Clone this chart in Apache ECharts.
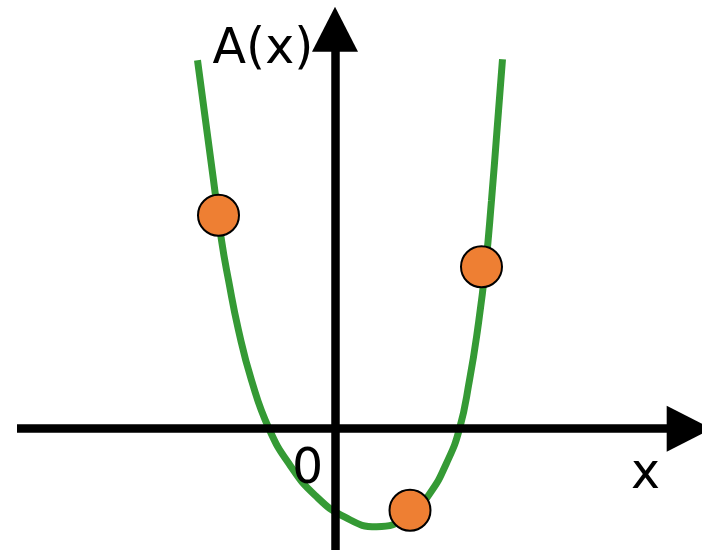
<!DOCTYPE html>
<html>
<head>
<meta charset="utf-8">
<title>A(x)</title>
<script src="https://cdn.jsdelivr.net/npm/echarts@6.0.0/dist/echarts.min.js"></script>
<style>
  html, body { margin: 0; padding: 0; background: #fff; }
  .chart { width: 702px; height: 550px; }
</style>
</head>
<body>
<div class="chart"></div>
<script>
// 曲线上的点
var curveX = [-2.75, -2.59, -2.43, -2.27, -2.13, -1.93, -1.67, -1.32, -0.90, -0.40, 0.20, 0.83, 1.50, 1.90, 2.23, 2.49, 2.69, 2.85, 3.01, 3.13, 3.24, 3.35];
var curveY = [7.37, 6.17, 4.97, 3.77, 2.97, 1.97, 0.97, 0, -0.73, -1.33, -1.77, -1.96, -1.73, -1.29, -0.69, 0, 0.97, 1.97, 3.24, 4.57, 5.97, 7.39];

// 橙色的点
var dotX = [-2.33, 1.50, 2.93];
var dotY = [4.27, -1.63, 3.24];

// 文字
var yName = 'A(x)';
var xName = 'x';
var originLabel = '0';

function pairs(xs, ys) {
  var out = [];
  for (var i = 0; i < xs.length; i++) out.push([xs[i], ys[i]]);
  return out;
}

var chart = echarts.init(document.querySelector('.chart'));

var axisLine = {
  show: true,
  onZero: true,
  symbol: ['none', 'triangle'],
  symbolSize: [46, 45],
  lineStyle: { color: '#000', width: 8.5, cap: 'butt' }
};

var font = '49px "DejaVu Sans"';

var option = {
  animation: false,
  grid: { left: 17, right: 12.8, top: 29.2, bottom: 0 },
  xAxis: {
    type: 'value',
    min: -6.36,
    max: 7.084,
    z: 10,
    axisLine: axisLine,
    axisTick: { show: false },
    axisLabel: { show: false },
    splitLine: { show: false }
  },
  yAxis: {
    type: 'value',
    min: -2.426,
    max: 7.99,
    z: 10,
    axisLine: axisLine,
    axisTick: { show: false },
    axisLabel: { show: false },
    splitLine: { show: false }
  },
  series: [
    {
      name: 'curve',
      type: 'line',
      data: pairs(curveX, curveY),
      smooth: 0.5,
      showSymbol: false,
      lineStyle: { color: '#359a35', width: 7, cap: 'butt' },
      z: 2
    },
    {
      name: 'points',
      type: 'scatter',
      data: pairs(dotX, dotY),
      symbolSize: 41,
      itemStyle: { color: '#ee7f33', borderColor: '#000', borderWidth: 2, opacity: 1 },
      z: 20
    }
  ],
  graphic: [
    { type: 'text', z: 100, style: { text: yName, x: 212.6, y: 50.5, font: font, fill: '#000', textAlign: 'left', textVerticalAlign: 'middle' } },
    { type: 'text', z: 100, style: { text: originLabel, x: 307.5, y: 470.5, font: font, fill: '#000', textAlign: 'center', textVerticalAlign: 'middle' } },
    { type: 'text', z: 100, style: { text: xName, x: 645.5, y: 475.5, font: font, fill: '#000', textAlign: 'center', textVerticalAlign: 'middle' } }
  ]
};

chart.setOption(option);
</script>
</body>
</html>
